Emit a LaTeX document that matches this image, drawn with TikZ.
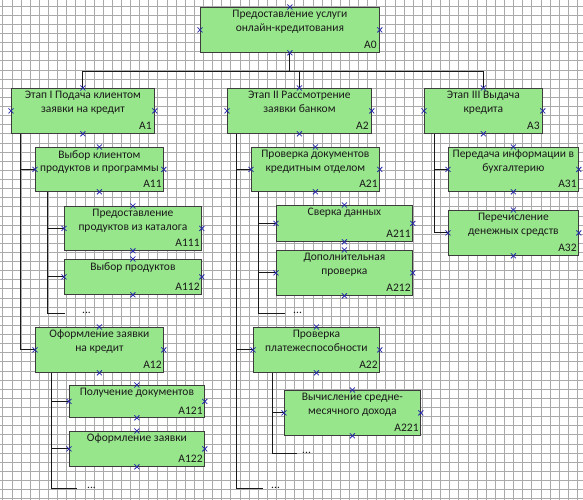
\documentclass[tikz,border=0pt]{standalone}
\usepackage{fontspec}
\setmainfont{Carlito}
\usepackage{xcolor}
\usepackage{tikz}
\usetikzlibrary{calc}
\definecolor{figline}{RGB}{25,25,25}
\definecolor{figfill}{RGB}{152,230,140}
\definecolor{figgrid}{RGB}{170,170,170}
\definecolor{figmark}{RGB}{40,40,170}
\tikzset{
  blk/.style  ={draw=figline!85, fill=figfill, line width=0.8pt, anchor=north west, inner sep=0pt},
  txt/.style  ={font=\fontsize{11.5}{13.5}\selectfont, text=figline, align=center, inner sep=0pt, anchor=north},
  lab/.style  ={font=\fontsize{11.5}{13.5}\selectfont, text=figline, inner sep=0pt, anchor=south east},
  dots/.style ={font=\fontsize{11.5}{13.5}\selectfont, text=figline, inner sep=0pt, anchor=base west},
  ln/.style   ={draw=figline, line width=1pt},
  gridln/.style ={draw=figgrid, line width=0.5pt},
  mk/.style   ={draw=figmark, line width=0.8pt},
}

\begin{document}
\begin{tikzpicture}[x=1pt,y=-1pt]
  \useasboundingbox (0,0) rectangle (583,500);
  \fill[white] (0,0) rectangle (583,500);
  % grid
  \foreach \i in {0,...,63} \draw[gridln] ({2.7+\i*9.12},0) -- ++(0,500);
  \foreach \j in {0,...,54} \draw[gridln] (0,{6+\j*9.12}) -- ++(583,0);

  % level 0
  \node[blk,minimum width=179pt,minimum height=45pt] (A0) at (200,7) {};
  \node[txt] (A0t) at ([yshift=-3pt]A0.north) {Предоставление услуги\\онлайн-кредитования};
  \node[lab] (A0l) at ([xshift=-3pt,yshift=4pt]A0.south east) {A0};

  % level 1
  \node[blk,minimum width=143pt,minimum height=45pt] (A1) at (11,88) {};
  \node[txt] (A1t) at ([yshift=-3pt]A1.north) {Этап I Подача клиентом\\заявки на кредит};
  \node[lab] (A1l) at ([xshift=-3pt,yshift=4pt]A1.south east) {A1};
  \node[blk,minimum width=144pt,minimum height=45pt] (A2) at (227,88) {};
  \node[txt] (A2t) at ([yshift=-3pt]A2.north) {Этап II Рассмотрение\\заявки банком};
  \node[lab] (A2l) at ([xshift=-3pt,yshift=4pt]A2.south east) {A2};
  \node[blk,minimum width=118pt,minimum height=45pt] (A3) at (424,88) {};
  \node[txt] (A3t) at ([yshift=-3pt]A3.north) {Этап III Выдача\\кредита};
  \node[lab] (A3l) at ([xshift=-3pt,yshift=4pt]A3.south east) {A3};

  % branch A1
  \node[blk,minimum width=128pt,minimum height=44pt] (A11) at (35,147) {};
  \node[txt] (A11t) at ([yshift=-3pt]A11.north) {Выбор клиентом\\продуктов и программы};
  \node[lab] (A11l) at ([xshift=-2pt,yshift=4pt]A11.south east) {A11};
  \node[blk,minimum width=137pt,minimum height=44pt] (A111) at (64,206) {};
  \node[txt] (A111t) at ([yshift=-3pt]A111.north) {Предоставление\\продуктов из каталога};
  \node[lab] (A111l) at ([xshift=-2pt,yshift=4pt]A111.south east) {A111};
  \node[blk,minimum width=137pt,minimum height=35pt] (A112) at (64,259) {};
  \node[txt] (A112t) at ([yshift=-3pt]A112.north) {Выбор продуктов};
  \node[lab] (A112l) at ([xshift=-2pt,yshift=4pt]A112.south east) {A112};
  \node[blk,minimum width=128pt,minimum height=45pt] (A12) at (35,327) {};
  \node[txt] (A12t) at ([yshift=-3pt]A12.north) {Оформление заявки\\на кредит};
  \node[lab] (A12l) at ([xshift=-2pt,yshift=4pt]A12.south east) {A12};
  \node[blk,minimum width=135pt,minimum height=32pt] (A121) at (69,385) {};
  \node[txt] (A121t) at ([yshift=-3pt]A121.north) {Получение документов};
  \node[lab] (A121l) at ([xshift=-2pt,yshift=3pt]A121.south east) {A121};
  \node[blk,minimum width=135pt,minimum height=35pt] (A122) at (69,431) {};
  \node[txt] (A122t) at ([yshift=-3pt]A122.north) {Оформление заявки};
  \node[lab] (A122l) at ([xshift=-2pt,yshift=4pt]A122.south east) {A122};

  % branch A2
  \node[blk,minimum width=128pt,minimum height=44pt] (A21) at (251,147) {};
  \node[txt] (A21t) at ([yshift=-3pt]A21.north) {Проверка документов\\кредитным отделом};
  \node[lab] (A21l) at ([xshift=-2pt,yshift=4pt]A21.south east) {A21};
  \node[blk,minimum width=136pt,minimum height=36pt] (A211) at (276,205) {};
  \node[txt] (A211t) at ([yshift=-3pt]A211.north) {Сверка данных};
  \node[lab] (A211l) at ([xshift=-2pt,yshift=4pt]A211.south east) {A211};
  \node[blk,minimum width=136pt,minimum height=45pt] (A212) at (276,250) {};
  \node[txt] (A212t) at ([yshift=-3pt]A212.north) {Дополнительная\\проверка};
  \node[lab] (A212l) at ([xshift=-2pt,yshift=4pt]A212.south east) {A212};
  \node[blk,minimum width=126pt,minimum height=45pt] (A22) at (253,327) {};
  \node[txt] (A22t) at ([yshift=-3pt]A22.north) {Проверка\\платежеспособности};
  \node[lab] (A22l) at ([xshift=-2pt,yshift=4pt]A22.south east) {A22};
  \node[blk,minimum width=136pt,minimum height=45pt] (A221) at (284,390) {};
  \node[txt] (A221t) at ([yshift=-3pt]A221.north) {Вычисление средне-\\месячного дохода};
  \node[lab] (A221l) at ([xshift=-2pt,yshift=4pt]A221.south east) {A221};

  % branch A3
  \node[blk,minimum width=130pt,minimum height=44pt] (A31) at (448,147) {};
  \node[txt] (A31t) at ([yshift=-3pt]A31.north) {Передача информации в\\бухгалтерию};
  \node[lab] (A31l) at ([xshift=-2pt,yshift=4pt]A31.south east) {A31};
  \node[blk,minimum width=130pt,minimum height=45pt] (A32) at (448,210) {};
  \node[txt] (A32t) at ([yshift=-3pt]A32.north) {Перечисление\\денежных средств};
  \node[lab] (A32l) at ([xshift=-2pt,yshift=4pt]A32.south east) {A32};

  % continuation marks
  \coordinate (c11) at (65,313);
  \node[dots] (e11) at (82,313) {...};
  \coordinate (c12) at (77,488);
  \node[dots] (e12) at (87,488) {...};
  \coordinate (c21) at (285,313);
  \node[dots] (e21) at (293,313) {...};
  \coordinate (c22) at (297,453);
  \node[dots] (e22) at (302,453) {...};
  \coordinate (c2) at (263,488);
  \node[dots] (e2) at (271,488) {...};

  % connectors
  \draw[ln] (A0.south) -- ++(0,19) coordinate (bus);
  \draw[ln] (bus) -| (A1.north);
  \draw[ln] (bus) -| (A2.north);
  \draw[ln] (bus) -| (A3.north);
  \draw[ln] ([xshift=9pt]A1.south west) |- (A11.west);
  \draw[ln] ([xshift=9pt]A1.south west) |- (A12.west);
  \draw[ln] ([xshift=12pt]A11.south west) |- (A111.west);
  \draw[ln] ([xshift=12pt]A11.south west) |- (A112.west);
  \draw[ln] ([xshift=12pt]A11.south west) |- (c11);
  \draw[ln] ([xshift=16pt]A12.south west) |- (A121.west);
  \draw[ln] ([xshift=16pt]A12.south west) |- (A122.west);
  \draw[ln] ([xshift=16pt]A12.south west) |- (c12);
  \draw[ln] ([xshift=9pt]A2.south west) |- (A21.west);
  \draw[ln] ([xshift=9pt]A2.south west) |- (A22.west);
  \draw[ln] ([xshift=9pt]A2.south west) |- (c2);
  \draw[ln] ([xshift=7pt]A21.south west) |- (A211.west);
  \draw[ln] ([xshift=7pt]A21.south west) |- (A212.west);
  \draw[ln] ([xshift=7pt]A21.south west) |- (c21);
  \draw[ln] ([xshift=19pt]A22.south west) |- (A221.west);
  \draw[ln] ([xshift=19pt]A22.south west) |- (c22);
  \draw[ln] ([xshift=10pt]A3.south west) |- (A31.west);
  \draw[ln] ([xshift=10pt]A3.south west) |- (A32.west);

  % connection marks
  \foreach \n in {A0,A1,A2,A3,A11,A111,A112,A12,A121,A122,A21,A211,A212,A22,A221,A31,A32}
    \foreach \a in {north,south,east,west}
      \draw[mk] (\n.\a) +(-2.5,-2.5) -- +(2.5,2.5) +(-2.5,2.5) -- +(2.5,-2.5);
\end{tikzpicture}
\end{document}
